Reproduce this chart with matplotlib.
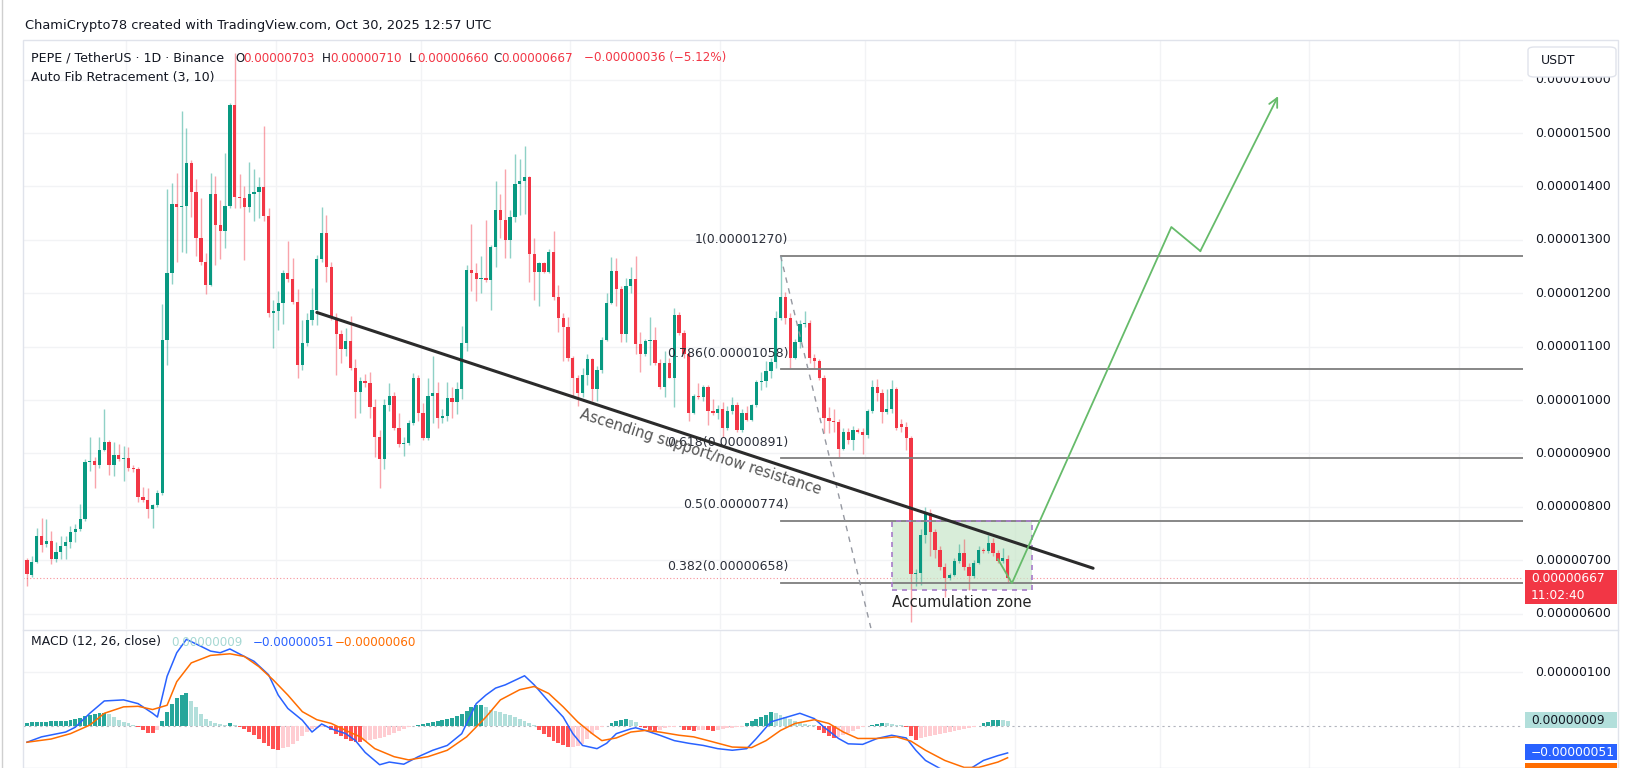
import matplotlib
matplotlib.use("Agg")
import matplotlib.pyplot as plt
import matplotlib.transforms as mtransforms
from matplotlib.patches import Rectangle, FancyBboxPatch

# ==========================
# DATA (prices in 1e-8 USDT)
# ==========================
opens = [
    700, 672, 697, 746, 730, 736, 703, 716, 727, 735,
    752, 758, 777, 883, 885, 879, 907, 921, 879, 897,
    889, 891, 873, 871, 819, 812, 796, 803, 825, 1113,
    1237, 1368, 1362, 1364, 1444, 1389, 1303, 1259, 1216, 1385,
    1328, 1317, 1364, 1552, 1381, 1378, 1361, 1385, 1389, 1399,
    1344, 1163, 1166, 1181, 1237, 1226, 1183, 1065, 1106, 1150,
    1168, 1264, 1313, 1250, 1153, 1124, 1095, 1111, 1060, 1015,
    1035, 1031, 986, 931, 889, 990, 1007, 947, 917, 920,
    957, 1042, 976, 928, 1008, 1013, 967, 970, 1003, 997,
    1021, 1106, 1243, 1237, 1226, 1229, 1224, 1286, 1356, 1338,
    1299, 1343, 1404, 1410, 1417, 1273, 1240, 1256, 1240, 1278,
    1192, 1153, 1136, 1079, 1041, 1014, 1047, 1076, 1021, 1057,
    1113, 1182, 1241, 1208, 1124, 1214, 1227, 1105, 1086, 1111,
    1113, 1070, 1025, 1070, 1042, 1160, 1126, 1086, 976, 1008,
    1005, 1025, 980, 975, 983, 947, 979, 990, 944, 976,
    963, 990, 1033, 1035, 1055, 1071, 1153, 1192, 1153, 1079,
    1108, 1142, 1145, 1079, 1073, 1042, 967, 960, 958, 909,
    941, 925, 944, 941, 934, 979, 1024, 1014, 978, 983,
    1021, 955, 950, 928, 674, 677, 748, 789, 752, 720,
    688, 667, 673, 698, 714, 688, 670, 695, 720, 717,
    733, 714, 698, 703,
]
highs = [
    705, 707, 761, 780, 777, 754, 735, 746, 745, 764,
    767, 806, 890, 931, 893, 930, 983, 925, 922, 918,
    913, 912, 878, 875, 838, 835, 806, 832, 1179, 1396,
    1407, 1426, 1542, 1510, 1449, 1414, 1378, 1275, 1426, 1420,
    1375, 1462, 1556, 1650, 1423, 1400, 1446, 1433, 1417, 1513,
    1359, 1188, 1205, 1243, 1298, 1266, 1208, 1150, 1163, 1209,
    1272, 1362, 1346, 1259, 1163, 1131, 1134, 1158, 1076, 1044,
    1048, 1053, 1002, 944, 1002, 1031, 1015, 976, 931, 963,
    1050, 1047, 995, 1041, 1082, 1034, 983, 1034, 1024, 1034,
    1138, 1253, 1330, 1256, 1269, 1338, 1291, 1410, 1385, 1433,
    1356, 1460, 1452, 1475, 1420, 1304, 1259, 1259, 1282, 1317,
    1215, 1163, 1156, 1082, 1047, 1060, 1086, 1079, 1063, 1118,
    1201, 1267, 1266, 1214, 1228, 1250, 1269, 1127, 1115, 1156,
    1137, 1076, 1092, 1079, 1172, 1164, 1131, 1092, 1012, 1031,
    1028, 1028, 1002, 990, 996, 989, 1005, 996, 983, 989,
    992, 1037, 1053, 1073, 1079, 1166, 1270, 1203, 1163, 1115,
    1150, 1166, 1150, 1086, 1076, 1047, 986, 983, 964, 947,
    947, 951, 947, 947, 983, 1037, 1040, 1021, 1021, 1037,
    1024, 964, 958, 932, 684, 758, 799, 795, 758, 727,
    695, 676, 704, 730, 739, 695, 701, 727, 723, 748,
    742, 720, 723, 710,
]
lows = [
    652, 668, 694, 716, 725, 693, 697, 703, 703, 722,
    735, 755, 774, 867, 835, 873, 905, 860, 857, 886,
    848, 867, 866, 809, 809, 780, 761, 800, 822, 1066,
    1217, 1259, 1278, 1275, 1343, 1269, 1253, 1198, 1214, 1253,
    1265, 1285, 1360, 1359, 1359, 1262, 1352, 1336, 1340, 1336,
    1156, 1098, 1131, 1143, 1221, 1179, 1041, 1057, 1102, 1140,
    1140, 1259, 1221, 1150, 1047, 1070, 1082, 1057, 967, 976,
    1024, 967, 893, 835, 870, 979, 944, 912, 896, 915,
    954, 960, 925, 925, 957, 947, 957, 960, 967, 973,
    1002, 1092, 1205, 1185, 1201, 1221, 1168, 1250, 1304, 1266,
    1266, 1333, 1346, 1349, 1221, 1188, 1176, 1237, 1237, 1188,
    1127, 1073, 1073, 1008, 989, 1005, 1028, 999, 999, 1050,
    1111, 1179, 1176, 1108, 1108, 1201, 1086, 1053, 1082, 1066,
    1066, 1021, 1005, 1041, 986, 1121, 1079, 960, 973, 1002,
    999, 954, 972, 965, 931, 944, 973, 941, 941, 960,
    960, 986, 1018, 1024, 1041, 1060, 1150, 1143, 1060, 1076,
    1098, 1137, 1069, 1060, 1037, 938, 938, 940, 893, 906,
    918, 906, 938, 899, 928, 976, 999, 957, 973, 976,
    944, 941, 906, 584, 651, 653, 733, 707, 704, 682,
    632, 663, 670, 695, 682, 644, 667, 692, 714, 714,
    707, 695, 695, 660,
]
closes = [
    675, 697, 746, 729, 736, 703, 716, 727, 735, 752,
    758, 777, 883, 885, 879, 907, 921, 879, 897, 889,
    891, 873, 871, 819, 812, 796, 803, 825, 1113, 1237,
    1368, 1362, 1364, 1444, 1389, 1303, 1259, 1216, 1385, 1328,
    1317, 1364, 1552, 1381, 1378, 1361, 1385, 1389, 1399, 1344,
    1163, 1166, 1181, 1237, 1226, 1183, 1065, 1106, 1150, 1168,
    1264, 1313, 1250, 1153, 1124, 1095, 1111, 1060, 1015, 1035,
    1031, 986, 931, 889, 990, 1007, 947, 917, 920, 957,
    1042, 976, 928, 1008, 1013, 967, 970, 1003, 997, 1021,
    1106, 1243, 1237, 1226, 1229, 1224, 1286, 1356, 1338, 1299,
    1343, 1404, 1410, 1417, 1273, 1240, 1256, 1240, 1278, 1192,
    1153, 1136, 1079, 1041, 1014, 1047, 1076, 1021, 1057, 1113,
    1182, 1241, 1208, 1124, 1214, 1227, 1105, 1086, 1111, 1113,
    1070, 1025, 1070, 1042, 1160, 1126, 1086, 976, 1008, 1005,
    1025, 980, 975, 983, 947, 979, 990, 944, 976, 963,
    990, 1033, 1035, 1055, 1071, 1153, 1192, 1153, 1079, 1108,
    1142, 1145, 1079, 1073, 1042, 967, 960, 958, 909, 941,
    925, 944, 941, 934, 979, 1024, 1014, 978, 983, 1021,
    947, 950, 928, 674, 677, 748, 789, 752, 720, 688,
    667, 673, 698, 714, 688, 670, 695, 720, 717, 733,
    714, 698, 704, 667,
]

# MACD histogram, one bar per candle
macd_hist = [
    5, 6, 6, 7, 7, 8, 8, 9, 9, 10,
    12, 15, 18, 20, 22, 23, 24, 21,
    16, 11, 7, 4, 1,
    -3, -8, -13, -14, -9,
    8, 25, 40, 52, 58, 60, 45, 35, 22, 12,
    8, 5, 3, 2, 4, 1,
    -2, -6, -12, -18, -25, -32, -38, -44, -46, -42, -40, -35, -28, -20, -12,
    -6, -4, -3, -2,
    -8, -15, -20, -25, -28, -30, -31, -29, -27, -25, -23, -22,
    -18, -14, -10, -6, -3, -1,
    2, 3, 5, 6, 8, 10, 12, 14, 18, 22,
    28, 34, 38, 38, 34, 30, 28, 25,
    22, 20, 16, 12, 8, 5, 2,
    -8, -15, -22, -28, -33, -37, -40, -40, -38, -35,
    -25, -15, -8, -3, -1,
    5, 8, 11, 12, 10, 6,
    -3, -5, -8, -10, -8, -5, -3, -2, -1,
    -8, -9, -10, -9, -8, -9, -10, -8, -6, -5, -4, -3, -2,
    4, 8, 12, 16, 20, 25, 24, 20, 16,
    12, 8, 5, 3, 2, 1,
    -8, -14, -20, -24, -22,
    -18, -14, -10, -6, -3, -1,
    2, 3, 5, 4, 3, 2, 1, -2,
    -20, -26,
    -24, -22, -20, -18, -16, -14, -12, -10, -8, -6, -4, -2, -1,
    4, 7, 10, 11, 10, 9,
]

# MACD and signal lines, read at sample candles
macd_x = [0, 3, 8, 10, 13, 16, 20, 23, 26, 27, 29, 31, 33, 36, 38, 40, 42, 45, 47, 50,
          52, 54, 57, 59, 61, 63, 66, 68, 70, 73, 75, 78, 81, 84, 87, 90, 93, 95, 97, 99,
          103, 105, 108, 111, 113, 115, 118, 120, 122, 125, 126, 128, 131, 134, 137, 140,
          143, 146, 149, 151, 154, 157, 160, 163, 165, 168, 170, 173, 176, 179, 182, 184,
          186, 189, 192, 195, 198, 201, 203]
macd_line = [-31, -21, -12, -3, 23, 46, 48, 41, 23, 16, 92, 136, 161, 148, 139, 136, 143, 129, 120, 95,
             57, 32, 10, -12, 3, -6, -15, -28, -50, -73, -68, -72, -58, -46, -37, -15, 41, 57, 70, 76,
             93, 76, 45, 16, -15, -37, -43, -33, -15, -6, -4, -9, -18, -28, -33, -37,
             -43, -46, -43, -24, 7, 15, 23, 13, -3, -24, -34, -35, -24, -18, -23, -46,
             -65, -80, -88, -82, -65, -56, -51]
signal_x = [0, 5, 9, 13, 16, 20, 23, 26, 29, 31, 34, 38, 42, 45, 48, 51, 54, 57, 60, 63,
            66, 69, 72, 76, 79, 83, 87, 91, 95, 98, 102, 105, 108, 111, 114, 117, 119, 122,
            125, 128, 131, 135, 138, 141, 146, 150, 153, 156, 159, 163, 166, 169, 172, 176,
            180, 183, 186, 190, 194, 197, 201, 203]
signal_line = [-31, -25, -15, 1, 23, 35, 36, 30, 38, 82, 117, 131, 134, 129, 110, 85, 57, 26, 11, 4,
               -9, -21, -43, -58, -64, -58, -46, -21, 16, 48, 67, 73, 60, 35, 7, -15, -28, -23,
               -12, -9, -12, -18, -21, -28, -40, -41, -28, -9, 4, 11, 4, -12, -24, -24,
               -21, -29, -46, -65, -78, -78, -68, -60]

price_levels = [600, 700, 800, 900, 1000, 1100, 1200, 1300, 1400, 1500, 1600]
fib_ratios = ["1", "0.786", "0.618", "0.5", "0.382"]
fib_prices = [1270, 1058, 891, 774, 658]
month_starts = [20.5, 51.5, 81.5, 112.5, 143.5, 173.5, 204.5, 234.5, 265.5, 296.5]

# drawings on the chart
trend_x = [60, 220.7]
trend_y = [1164, 685]
fib_diag_x = [156, 174.7]
fib_diag_y = [1270, 573]
zone_x = [179.0, 208.0]
zone_y = [644, 774]
path_x = [201, 203.9, 236.9, 242.9, 259]
path_y = [702, 657, 1324, 1279, 1569]

last_price = 667
macd_last = [9, -51, -60]

# ==========================
# LAYOUT
# ==========================
W, H = 1632, 768
TXT = "#131722"
UP, DOWN = "#089981", "#F23645"


def box(x0, y0, x1, y1):
    return [x0 / W, 1 - y1 / H, (x1 - x0) / W, (y1 - y0) / H]


def fx(x):
    return x / W


def fy(y):
    return 1 - y / H


def fmt(v):
    s = f"{abs(v) * 1e-8:.8f}"
    return ("\u2212" + s) if v < 0 else s


fig = plt.figure(figsize=(W / 100, H / 100), dpi=100)
fig.patch.set_facecolor("white")

ax = fig.add_axes(box(23, 40, 1523, 629))
mx = fig.add_axes(box(23, 630, 1523, 768))
for a in (ax, mx):
    a.set_facecolor("white")
    for s in a.spines.values():
        s.set_visible(False)
    a.set_xticks([])
    a.set_yticks([])
    a.set_xlim(-0.83, 309.7)
    for m in month_starts:
        a.axvline(m, color="#F2F3F5", lw=1, zorder=0)

ax.set_ylim(571.2, 1674.2)
mx.set_ylim(-79.1, 178.4)

# grid
for p in price_levels:
    ax.axhline(p, color="#F2F3F5", lw=1, zorder=0)
mx.axhline(100, color="#F2F3F5", lw=1, zorder=0)

# candles
idx = list(range(len(closes)))
body_lo = [min(o, c) for o, c in zip(opens, closes)]
body_h = [max(abs(c - o), 1.6) for o, c in zip(opens, closes)]
cols = [UP if c >= o else DOWN for o, c in zip(opens, closes)]
ax.vlines(idx, lows, highs, colors=cols, lw=1, alpha=0.45, zorder=3)
ax.bar(idx, body_h, bottom=body_lo, width=0.68, color=cols, zorder=4)

# current price dotted line
ax.axhline(last_price, color=DOWN, lw=0.8, ls=(0, (1, 2)), alpha=0.55, zorder=2)

# auto fib
for r, p in zip(fib_ratios, fib_prices):
    ax.plot([156, 309.7], [p, p], color="#7E7E7E", lw=1.3, zorder=5)
    ax.text(157.6, p + 30, f"{r}({fmt(p)})", ha="right", va="center",
            fontsize=9, color="#2A2E39", zorder=6)
ax.plot(fib_diag_x, fib_diag_y, color="#9598A1", lw=1, ls=(0, (4, 4)), zorder=5)

# trend line
ax.plot(trend_x, trend_y, color="#2B2B2B", lw=2.2, zorder=7, solid_capstyle="round")
ax.text(139.5, 903, "Ascending support/now resistance", rotation=-17.6,
        rotation_mode="anchor", ha="center", va="center", fontsize=10.5,
        color="#555555", zorder=8)

# accumulation zone
ax.add_patch(Rectangle((zone_x[0], zone_y[0]), zone_x[1] - zone_x[0], zone_y[1] - zone_y[0],
                       facecolor="#C8E6C9", alpha=0.7, edgecolor="none", zorder=2))
ax.add_patch(Rectangle((zone_x[0], zone_y[0]), zone_x[1] - zone_x[0], zone_y[1] - zone_y[0],
                       facecolor="none", edgecolor="#A77BCA", lw=1.2, ls=(0, (3, 3)), zorder=6))
ax.text(zone_x[0], 620, "Accumulation zone", ha="left", va="center", fontsize=10.5,
        color="#222222", zorder=8)

# projection path
ax.plot(path_x[:-1], path_y[:-1], color="#66BB6A", lw=1.3, zorder=8)
ax.annotate("", xy=(path_x[-1], path_y[-1]), xytext=(path_x[-2], path_y[-2]),
            arrowprops=dict(arrowstyle="->", color="#66BB6A", lw=1.3,
                            mutation_scale=16, shrinkA=0, shrinkB=0), zorder=8)

# price axis labels
tr = mtransforms.blended_transform_factory(ax.transAxes, ax.transData)
for p in price_levels:
    ax.text(1.008, p, fmt(p), transform=tr, ha="left", va="center",
            fontsize=9, color=TXT, clip_on=False)

# MACD
hist_cols = []
for i, h in enumerate(macd_hist):
    prev = macd_hist[i - 1] if i > 0 else h
    if h >= 0:
        hist_cols.append("#26A69A" if h >= prev else "#B2DFDB")
    else:
        hist_cols.append("#FFCDD2" if h >= prev else "#FF5252")
mx.bar(idx, macd_hist, width=0.8, color=hist_cols, zorder=2)
mx.axhline(0, color="#B2B5BE", lw=0.8, ls=(0, (2, 3)), zorder=1)
mx.plot(macd_x, macd_line, color="#2962FF", lw=1.1, zorder=4)
mx.plot(signal_x, signal_line, color="#FF6D00", lw=1.1, zorder=4)
trm = mtransforms.blended_transform_factory(mx.transAxes, mx.transData)
mx.text(1.008, 100, fmt(100), transform=trm, ha="left", va="center",
        fontsize=9, color=TXT, clip_on=False)

# ==========================
# FRAME + LABEL BOXES
# ==========================
fig.add_artist(plt.Line2D([fx(2), fx(2)], [0, 1], color="#CFCFCF", lw=1))
fig.add_artist(Rectangle((fx(23), 0), fx(1618) - fx(23), fy(40), transform=fig.transFigure,
                         facecolor="none", edgecolor="#E0E3EB", lw=1))
fig.add_artist(plt.Line2D([fx(23), fx(1618)], [fy(630), fy(630)], color="#E0E3EB", lw=1))


def tag(y0, y1, fc, lines, tc):
    fig.add_artist(Rectangle((fx(1525), fy(y1)), fx(1617) - fx(1525), fy(y0) - fy(y1),
                             transform=fig.transFigure, facecolor=fc, edgecolor="none"))
    step = (y1 - y0) / len(lines) if lines else 0
    for k, t in enumerate(lines):
        fig.text(fx(1531), fy(y0 + step * (k + 0.5)), t, ha="left", va="center",
                 fontsize=8.8, color=tc)


tag(570, 604, DOWN, [fmt(last_price), "11:02:40"], "white")
tag(712, 728, "#B2DFDB", [fmt(macd_last[0])], TXT)
tag(744, 760, "#2962FF", [fmt(macd_last[1])], "white")
# signal tag sits below, only its top edge shows
tag(763, 780, "#FF6D00", [], "white")

usdt = FancyBboxPatch((fx(1528), fy(77)), fx(1616) - fx(1528), fy(47) - fy(77),
                      boxstyle="round,pad=0,rounding_size=0.004", transform=fig.transFigure,
                      facecolor="white", edgecolor="#E0E3EB", lw=1)
fig.add_artist(usdt)
fig.text(fx(1541), fy(61), "USDT", ha="left", va="center", fontsize=9, color=TXT)

# header texts
fig.text(fx(25), fy(26), "ChamiCrypto78 created with TradingView.com, Oct 30, 2025 12:57 UTC",
         ha="left", va="center", fontsize=9.4, color=TXT)
fig.text(fx(31), fy(58), "PEPE / TetherUS \u00b7 1D \u00b7 Binance", ha="left", va="center",
         fontsize=9.1, color=TXT)
ohlc = [("O", opens[-1], 235), ("H", highs[-1], 322), ("L", lows[-1], 409), ("C", closes[-1], 493)]
for lab, v, x in ohlc:
    fig.text(fx(x), fy(58), lab, ha="left", va="center", fontsize=8.6, color=TXT)
    fig.text(fx(x + 8), fy(58), fmt(v), ha="left", va="center", fontsize=8.6, color=DOWN)
chg = closes[-1] - opens[-1]
fig.text(fx(584), fy(58), f"{fmt(chg)} (\u2212{abs(chg) / opens[-1] * 100:.2f}%)",
         ha="left", va="center", fontsize=8.6, color=DOWN)
fig.text(fx(31), fy(78), "Auto Fib Retracement (3, 10)", ha="left", va="center",
         fontsize=9.1, color=TXT)

fig.text(fx(31), fy(642), "MACD (12, 26, close)", ha="left", va="center", fontsize=8.9, color=TXT)
fig.text(fx(171), fy(642), fmt(macd_last[0]), ha="left", va="center", fontsize=8.6, color="#A6D8D3")
fig.text(fx(253), fy(642), fmt(macd_last[1]), ha="left", va="center", fontsize=8.6, color="#2962FF")
fig.text(fx(335), fy(642), fmt(macd_last[2]), ha="left", va="center", fontsize=8.6, color="#FF6D00")

fig.savefig("out.png", dpi=100, facecolor="white")
